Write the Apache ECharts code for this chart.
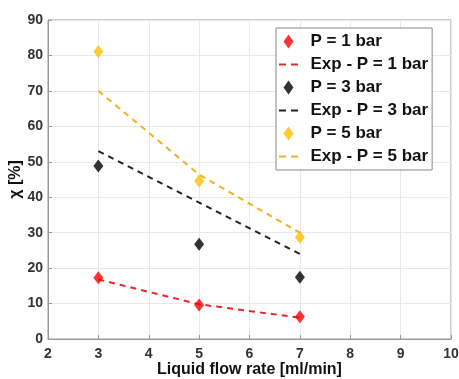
<!DOCTYPE html>
<html>
<head>
<meta charset="utf-8">
<script src="https://cdn.jsdelivr.net/npm/echarts@6/dist/echarts.min.js"></script>
<style>
  html, body { margin: 0; padding: 0; background: #fff; }
  #chart { width: 459px; height: 379px; }
</style>
</head>
<body>
<div id="chart"></div>
<script>
const flowRates = [3, 5, 7]
const p1 = [17.3, 9.6, 6.3]
const p1Exp = [16.8, 9.8, 6.0]
const p3 = [48.8, 26.7, 17.4]
const p3Exp = [53, 38.5, 24]
const p5 = [81.1, 44.6, 28.7]
const p5Exp = [70, 46.4, 30]

const font = 'Liberation Sans, Arial, sans-serif'
const pairs = vals => flowRates.map((x, i) => [x, vals[i]])

// legend icons: small diamond, and two dashes padded to the full icon box
const diamondIcon = 'path://M5,0L10,7L5,14L0,7Z'
const dashIcon = 'path://M0,0h0.01v0.01h-0.01z M1,6h7v2h-7z M13,6h7v2h-7z M21,14h0.01v0.01h-0.01z'

function scatter(name, vals, color) {
  return {
    name, type: 'scatter', data: pairs(vals),
    symbol: 'diamond', symbolSize: [10, 13],
    itemStyle: { color }, z: 3
  }
}

function expLine(name, vals, color) {
  return {
    name, type: 'line', data: pairs(vals),
    symbol: 'none', itemStyle: { color },
    lineStyle: { color, width: 2, type: [6, 5] }
  }
}

const chart = echarts.init(document.getElementById('chart'))
chart.setOption({
  animation: false,
  textStyle: { fontFamily: font },
  grid: {
    left: 48, right: 8, top: 20, bottom: 40, outerBoundsMode: 'none',
    show: true, borderColor: '#999', borderWidth: 1
  },
  legend: {
    orient: 'vertical', left: 276, top: 28,
    padding: [5, 4, 5, 2], itemGap: 6, itemWidth: 28, itemHeight: 14,
    backgroundColor: '#fff', borderColor: '#888', borderWidth: 1,
    textStyle: {
      fontFamily: font, fontSize: 17, fontWeight: 'bold', color: '#111',
      padding: [0, 10, 0, 3]
    },
    data: [
      { name: 'P = 1 bar', icon: diamondIcon },
      { name: 'Exp - P = 1 bar', icon: dashIcon },
      { name: 'P = 3 bar', icon: diamondIcon },
      { name: 'Exp - P = 3 bar', icon: dashIcon },
      { name: 'P = 5 bar', icon: diamondIcon },
      { name: 'Exp - P = 5 bar', icon: dashIcon }
    ]
  },
  xAxis: {
    type: 'value', min: 2, max: 10, interval: 1,
    name: 'Liquid flow rate [ml/min]', nameLocation: 'middle', nameGap: 23,
    nameMoveOverlap: false,
    nameTextStyle: { fontSize: 16, fontWeight: 'bold', color: '#111' },
    axisLine: { lineStyle: { color: '#999' } },
    axisTick: { inside: true, length: 4, lineStyle: { color: '#999' } },
    axisLabel: { fontSize: 14, fontWeight: 'bold', color: '#333', margin: 8 },
    splitLine: { lineStyle: { color: '#e8e8e8' } }
  },
  yAxis: {
    type: 'value', min: 0, max: 90, interval: 10,
    name: 'χ [%]', nameLocation: 'middle', nameGap: 24, nameRotate: 90,
    nameMoveOverlap: false,
    nameTextStyle: { fontSize: 16, fontWeight: 'bold', color: '#111' },
    axisLine: { show: true, lineStyle: { color: '#999' } },
    axisTick: { show: true, inside: true, length: 4, lineStyle: { color: '#999' } },
    axisLabel: { fontSize: 14, fontWeight: 'bold', color: '#333', margin: 5 },
    splitLine: { lineStyle: { color: '#e8e8e8' } }
  },
  series: [
    scatter('P = 1 bar', p1, '#ff0000'),
    expLine('Exp - P = 1 bar', p1Exp, '#e8262a'),
    scatter('P = 3 bar', p3, '#000000'),
    expLine('Exp - P = 3 bar', p3Exp, '#222222'),
    scatter('P = 5 bar', p5, '#ffbf00'),
    expLine('Exp - P = 5 bar', p5Exp, '#f2b01e')
  ]
})
</script>
</body>
</html>
